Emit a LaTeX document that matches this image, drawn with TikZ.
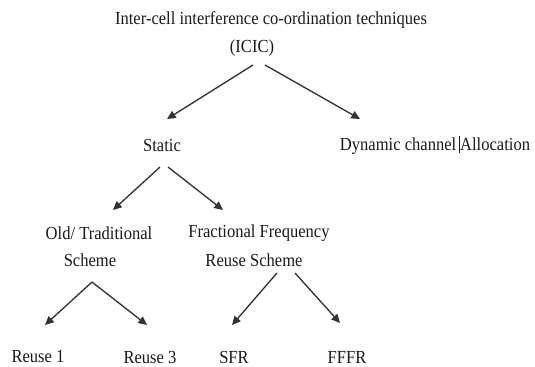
\documentclass[tikz,border=0pt]{standalone}
\usepackage{fontspec}
\setmainfont{Liberation Serif}[FakeStretch=0.9]
\usetikzlibrary{arrows.meta}
\begin{document}
\begin{tikzpicture}[x=0.75pt,y=-0.75pt,
  lbl/.style={inner sep=0pt,font=\fontsize{13.8pt}{16pt}\selectfont,text=black!90},
  arr/.style={draw=black!80,line width=1pt,-{Triangle[length=6.5pt,width=6pt]}}]
\useasboundingbox (0,0) rectangle (535,367);
\node[lbl] (title) at (271,20) {Inter-cell interference co-ordination techniques};
\node[lbl] (icic) at (252,48) {(ICIC)};
\node[lbl] (static) at (162,145) {Static};
\node[lbl] (dyn) at (435,145) {Dynamic channel\,\rule[-2pt]{0.6pt}{13pt}Allocation};
\node[lbl] (old1) at (99,233) {Old/ Traditional};
\node[lbl] (old2) at (90,260) {Scheme};
\node[lbl] (ffr1) at (259,233) {Fractional Frequency};
\node[lbl] (ffr2) at (254,260) {Reuse Scheme};
\node[lbl] (r1) at (38,357) {Reuse 1};
\node[lbl] (r3) at (150,357) {Reuse 3};
\node[lbl] (sfr) at (234,357) {SFR};
\node[lbl] (fffr) at (347,357) {FFFR};
\draw[arr] ([shift={(1,17)}]icic.center) -- ([shift={(5,-26)}]static.center);
\draw[arr] ([shift={(13,17)}]icic.center) -- ([shift={(-75,-26)}]dyn.center);
\draw[arr] ([shift={(-2,22)}]static.center) -- ([shift={(14,-23)}]old1.center);
\draw[arr] ([shift={(6,22)}]static.center) -- ([shift={(-36,-23)}]ffr1.center);
\draw[arr] ([shift={(2,22)}]old2.center) -- ([shift={(7,-32)}]r1.center);
\draw[arr] ([shift={(2,22)}]old2.center) -- ([shift={(-3,-32)}]r3.center);
\draw[arr] ([shift={(23,13)}]ffr2.center) -- ([shift={(-2,-32)}]sfr.center);
\draw[arr] ([shift={(41,13)}]ffr2.center) -- ([shift={(-7,-34)}]fffr.center);
\end{tikzpicture}
\end{document}
